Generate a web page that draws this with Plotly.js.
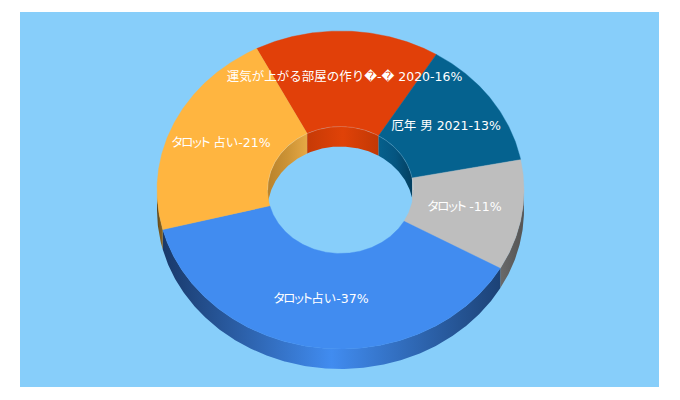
<!DOCTYPE html>
<html><head><meta charset="utf-8">
<script src="https://cdn.plot.ly/plotly-3.0.0.min.js"></script>
<style>html,body{margin:0;padding:0;background:#fff}</style></head>
<body><div id="chart" style="width:680px;height:400px"></div>
<script>
// Data, clockwise from the start angle
const labels = ["運気が上がる部屋の作り\uFFFD-\uFFFD 2020-16%", "厄年 男 2021-13%", "タロット -11%", "タロット占い-37%", "タロット 占い-21%"];
const values = [16.3, 13.2, 11.25, 37.8, 21.45];
const topColors = ["#E14009", "#05628F", "#BEBEBE", "#418CF0", "#FFB540"];
// Side shading: [left, middle, right]
const outerShades = [["#E14009","#E14009","#E14009"], ["#05628F","#05628F","#05628F"], ["#6a6a6a","#5e5e5e","#555555"], ["#19396a","#418CF0","#1c4276"], ["#5c4216","#7a5a20","#8a6525"]];
const innerShades = [["#c63a06","#e04208","#c23805"], ["#06608c","#055580","#033f60"], ["#BEBEBE","#BEBEBE","#BEBEBE"], ["#418CF0","#418CF0","#418CF0"], ["#b8822c","#cc9335","#e6a845"]];
const labelX = [344.5, 446, 464.5, 321, 221];
const labelY = [78, 127, 208, 300, 144];

// Layout of the drawing
const CX = 340.5, CY = 190, RX = 183.5, RY = 159, HX = 73, HY = 63.5, DEPTH = 20, START = -27.2;
const rad = d => d * Math.PI / 180;
const px = (r, a) => CX + r * Math.sin(rad(a));
const py = (r, a, s = 0) => CY - r * Math.cos(rad(a)) + s;
function arc(rx, ry, a, b, s = 0) {
  const n = Math.max(2, Math.ceil(Math.abs(b - a) / 0.5)), xs = [], ys = [];
  for (let i = 0; i <= n; i++) { const t = a + (b - a) * i / n; xs.push(px(rx, t)); ys.push(py(ry, t, s)); }
  return [xs, ys];
}
function band(x1, y1, x2, y2) {
  return { x: x1.concat(x2.slice().reverse(), [x1[0]]), y: y1.concat(y2.slice().reverse(), [y1[0]]) };
}
const total = values.reduce((p, c) => p + c, 0);
let cur = START; const spans = values.map(v => { const a = cur; cur += v / total * 360; return [a, cur]; });
const base = { type: "scatter", mode: "lines", fill: "toself", hoverinfo: "skip", showlegend: false };
const data = [];
function wall(rx, ry, a, b, shades) {
  const [x1, y1] = arc(rx, ry, a, b), [x2, y2] = arc(rx, ry, a, b, DEPTH);
  const s = band(x1, y1, x2, y2), lo = Math.min(...s.x), hi = Math.max(...s.x);
  data.push({ ...base, x: s.x, y: s.y, line: { width: 0 }, fillcolor: shades[1],
    fillgradient: { type: "horizontal", start: lo, stop: hi,
      colorscale: [[0, shades[0]], [0.5, shades[1]], [1, shades[2]]] } });
}
// Inner walls: far side of the hole
spans.forEach(([a, b], i) => {
  for (const off of [-360, 0, 360]) {
    const lo = Math.max(a + off, -90), hi = Math.min(b + off, 90);
    if (hi > lo) wall(HX, HY, lo, hi, innerShades[i]);
  }
});
// Outer walls: near side
spans.forEach(([a, b], i) => {
  const lo = Math.max(a, 90), hi = Math.min(b, 270);
  if (hi > lo) wall(RX, RY, lo, hi, outerShades[i]);
});
// Top faces
spans.forEach(([a, b], i) => {
  const [x1, y1] = arc(RX, RY, a, b), [x2, y2] = arc(HX, HY, a, b);
  const s = band(x1, y1, x2, y2);
  data.push({ ...base, x: s.x, y: s.y, line: { width: 0.4, color: topColors[i] }, fillcolor: topColors[i] });
});
// Faint rim on the far edge of the hole
const [rimX, rimY] = arc(HX, HY, -90, 90);
data.push({ type: "scatter", mode: "lines", x: rimX, y: rimY, hoverinfo: "skip", showlegend: false,
  line: { width: 0.8, color: "rgba(255,255,255,0.22)" } });
// Katakana is set proportionally and tight, as in the reference
const styled = labels.map(t => t.replace("タロット", '<span style="font-feature-settings:\'palt\';letter-spacing:-1.2px">タロット</span>'));
data.push({ type: "scatter", mode: "text", x: labelX, y: labelY, text: styled, textposition: "middle center",
  hoverinfo: "skip", showlegend: false,
  textfont: { family: '"DejaVu Sans","Noto Sans CJK JP",sans-serif', size: 12.5, color: "#ffffff" } });

const hidden = { visible: false, fixedrange: true };
Plotly.newPlot("chart", data, {
  width: 680, height: 400, paper_bgcolor: "#ffffff", plot_bgcolor: "#87CEFA",
  margin: { l: 20, r: 21, t: 12, b: 13, pad: 0 }, showlegend: false,
  xaxis: { ...hidden, range: [20, 659] }, yaxis: { ...hidden, range: [387, 12] }
}, { displayModeBar: false, staticPlot: true });
</script></body></html>
